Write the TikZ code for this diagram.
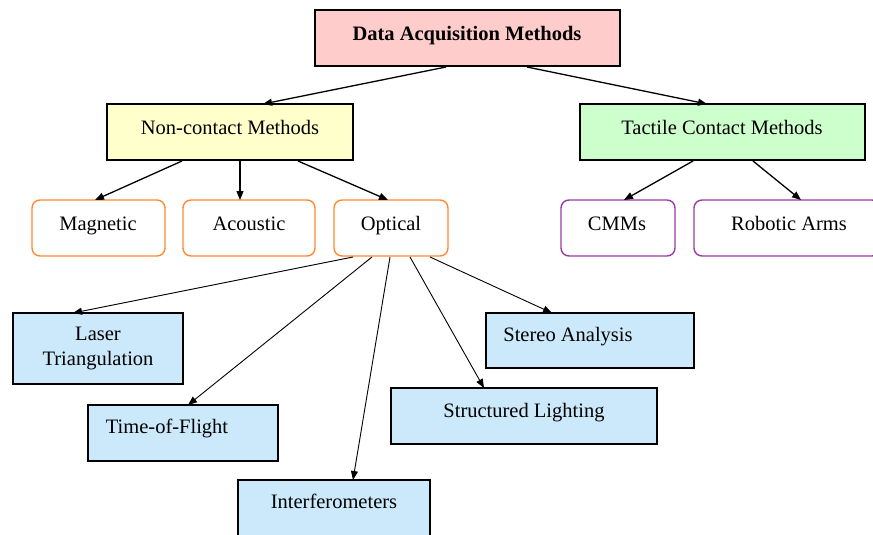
\documentclass[tikz,border=0pt]{standalone}
\usepackage{fontspec}
\setmainfont{Liberation Serif}
\usetikzlibrary{arrows.meta}
\definecolor{pinkf}{HTML}{FFCCCC}
\definecolor{yelf}{HTML}{FFFFCC}
\definecolor{grnf}{HTML}{CCFFCC}
\definecolor{bluf}{HTML}{CCE9FC}
\definecolor{orng}{HTML}{FF8A33}
\definecolor{purp}{HTML}{9B3AA6}
\tikzset{
  sq/.style={draw=black, line width=1.6pt, inner sep=0pt},
  rnd/.style={draw, fill=white, line width=1.4pt, rounded corners=8pt, inner sep=0pt},
  lbl/.style={font=\fontsize{20.5}{25}\selectfont, inner sep=0pt, text height=0.7em, text depth=0.22em, yshift=-5pt},
  lbl2/.style={font=\fontsize{20.5}{25}\selectfont, inner sep=0pt, align=center, yshift=-2.5pt},
  arr/.style={-{Triangle[length=9pt,width=7pt]}, line width=1.3pt},
  arrt/.style={-{Triangle[length=9pt,width=7pt]}, line width=0.9pt},
}
\begin{document}
\begin{tikzpicture}[x=1pt,y=-1pt]
\useasboundingbox (0,0) rectangle (873,535);
% boxes
\draw[sq, fill=pinkf] (315,10) rectangle (620,66);
\node[lbl, font=\fontsize{20.5}{25}\selectfont\bfseries] (dam) at (467,33) {Data Acquisition Methods};
\draw[sq, fill=yelf] (107,104) rectangle (353,160);
\node[lbl] (nc) at (230,127) {Non-contact Methods};
\draw[sq, fill=grnf] (580,104) rectangle (865,160);
\node[lbl] (tc) at (722,127) {Tactile Contact Methods};
\draw[rnd, draw=orng] (32,200) rectangle (165,256);
\node[lbl] (mag) at (98,223) {Magnetic};
\draw[rnd, draw=orng] (183,200) rectangle (315,256);
\node[lbl] (aco) at (249,223) {Acoustic};
\draw[rnd, draw=orng] (334,200) rectangle (448,256);
\node[lbl] (opt) at (391,223) {Optical};
\draw[rnd, draw=purp] (561,200) rectangle (675,256);
\node[lbl] (cmm) at (617,223) {CMMs};
\draw[rnd, draw=purp] (694,200) rectangle (880,256);
\node[lbl] (rob) at (789,223) {Robotic Arms};
\draw[sq, fill=bluf] (13,313) rectangle (183,384);
\node[lbl2] (las) at (98,346) {Laser\\Triangulation};
\draw[sq, fill=bluf] (88,405) rectangle (278,461);
\node[lbl] (tof) at (167,426) {Time-of-Flight};
\draw[sq, fill=bluf] (238,480) rectangle (430,545);
\node[lbl] (int) at (334,501) {Interferometers};
\draw[sq, fill=bluf] (391,388) rectangle (657,444);
\node[lbl] (str) at (524,410) {Structured Lighting};
\draw[sq, fill=bluf] (486,313) rectangle (694,368);
\node[lbl] (ste) at (568,334) {Stereo Analysis};
% anchor coordinates
\coordinate (damA) at (446,67);  \coordinate (ncT) at (263,104);
\coordinate (damB) at (527,67);  \coordinate (tcT) at (707,104);
\coordinate (ncA) at (182,161);  \coordinate (magT) at (95,200);
\coordinate (ncB) at (240,161);  \coordinate (acoT) at (240,200);
\coordinate (ncC) at (298,161);  \coordinate (optT) at (388,200);
\coordinate (tcA) at (693,161);  \coordinate (cmmT) at (624,200);
\coordinate (tcB) at (753,161);  \coordinate (robT) at (801,200);
\coordinate (oA) at (353,257);   \coordinate (lasT) at (73,313);
\coordinate (oB) at (372,257);   \coordinate (tofT) at (188,405);
\coordinate (oC) at (390,257);   \coordinate (intT) at (353,480);
\coordinate (oD) at (410,257);   \coordinate (strT) at (484,388);
\coordinate (oE) at (430,257);   \coordinate (steT) at (552,313);
\draw[arr] (damA) -- (ncT);
\draw[arr] (damB) -- (tcT);
\draw[arr] (ncA) -- (magT);
\draw[arr] (ncB) -- (acoT);
\draw[arr] (ncC) -- (optT);
\draw[arr] (tcA) -- (cmmT);
\draw[arr] (tcB) -- (robT);
\draw[arrt] (oA) -- (lasT);
\draw[arrt] (oB) -- (tofT);
\draw[arrt] (oC) -- (intT);
\draw[arrt] (oD) -- (strT);
\draw[arrt] (oE) -- (steT);
\end{tikzpicture}
\end{document}
